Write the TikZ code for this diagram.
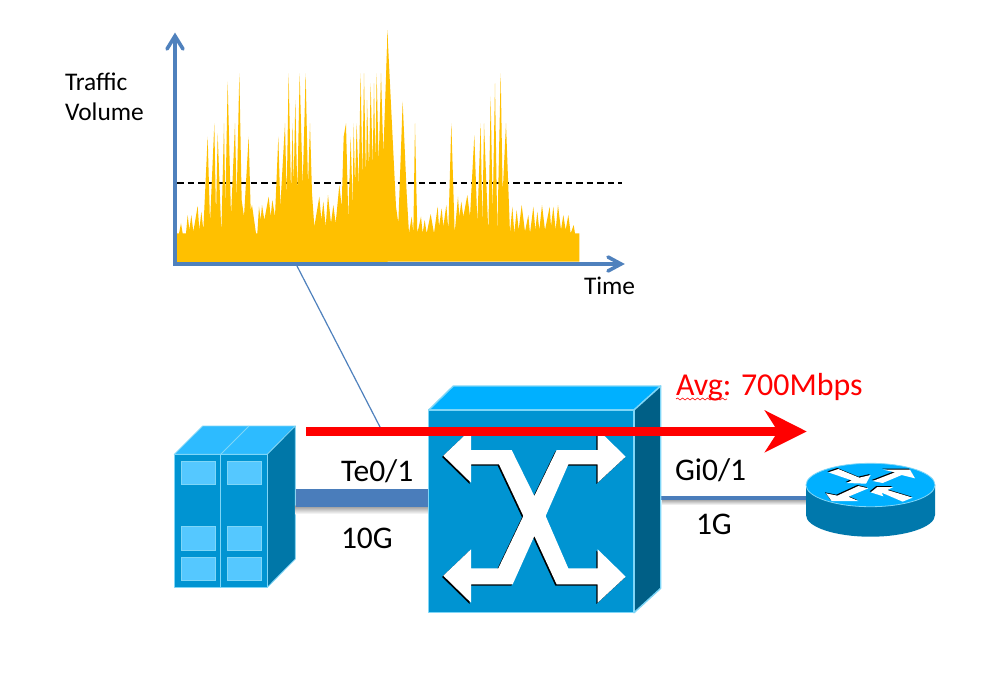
\documentclass[tikz,border=0pt]{standalone}
\usepackage{fontspec}
\setmainfont{Carlito}
\usetikzlibrary{decorations.pathmorphing}
\definecolor{axisblue}{HTML}{4F81BD}
\definecolor{linkblue}{HTML}{4A7DBB}
\definecolor{burst}{HTML}{FFC000}
\definecolor{frontblue}{HTML}{0094D2}
\definecolor{rackTop}{HTML}{2DBBFF}
\definecolor{rackSide}{HTML}{0077A8}
\definecolor{rim}{HTML}{7FD6F7}
\definecolor{pane}{HTML}{55C8FF}
\definecolor{swTop}{HTML}{00B0FF}
\definecolor{swSide}{HTML}{005F86}
\definecolor{rtSide}{HTML}{0078AC}
\tikzset{
  x=1pt,y=-1pt,
  axisline/.style={draw=axisblue,line width=3.6pt},
  axishead/.style={draw=axisblue,line width=3.6pt,line cap=round,line join=miter},
  spikes/.style={fill=burst,draw=none},
  zoomA/.style={shift={(160,20)},x=0.33333pt,y=-0.33333pt},
  zoomB/.style={shift={(380,60)},x=0.33333pt,y=-0.33333pt},
  zoomC/.style={shift={(800,455)},x=0.33333pt,y=-0.33333pt},
  rackface/.style={draw=rim,line width=0.8pt,line join=round},
  windowpane/.style={fill=pane,draw=rim,line width=0.5pt},
  swface/.style={draw=rim,line width=1.4pt,line join=round},
  label/.style={anchor=base west,inner sep=0pt,outer sep=0pt,text=black},
  sizeA/.style={font=\fontsize{25.4}{30}\selectfont},
  sizeB/.style={font=\fontsize{31.5}{38}\selectfont},
}
\begin{document}
\begin{tikzpicture}
\useasboundingbox (0,0) rectangle (999,697);
\fill[white] (0,0) rectangle (999,697);

% Average level, behind the traffic bursts
\coordinate (avgL) at (177,183);
\coordinate (avgR) at (622,183);
\draw[black,line width=1.2pt,dash pattern=on 6.5pt off 4pt] (avgL) -- (avgR);

% Traffic bursts, left part
\begin{scope}[zoomA]
\fill[spikes] (50,727) -- (50,640) -- (57,640) -- (63,610) -- (68,640) -- (78,640) -- (83,585) -- (88,630) -- (94,585) -- (100,635) -- (113,558) -- (118,630) -- (124,575) -- (130,630) -- (143,350) -- (150,610) -- (163,310) -- (168,590) -- (173,340) -- (184,640) -- (192,310) -- (196,560) -- (203,185) -- (213,590) -- (225,310) -- (230,540) -- (238,160) -- (245,540) -- (252,590) -- (266,350) -- (272,570) -- (276,555) -- (288,640) -- (292,640) -- (297,560) -- (302,600) -- (306,555) -- (313,600) -- (326,530) -- (332,590) -- (337,540) -- (345,590) -- (355,350) -- (361,560) -- (375,310) -- (380,530) -- (386,160) -- (393,520) -- (398,310) -- (401,500) -- (406,240) -- (412,520) -- (419,160) -- (428,500) -- (437,160) -- (444,500) -- (450,310) -- (456,520) -- (463,620) -- (478,530) -- (484,600) -- (490,545) -- (497,620) -- (504,525) -- (513,610) -- (520,555) -- (527,610) -- (538,495) -- (545,560) -- (551,350) -- (558,310) -- (565,600) -- (572,350) -- (578,560) -- (581,310) -- (585,500) -- (590,310) -- (596,500) -- (602,160) -- (607,480) -- (612,160) -- (618,480) -- (621,240) -- (627,450) -- (632,190) -- (638,440) -- (642,190) -- (646,430) -- (650,160) -- (656,430) -- (663,160) -- (670,400) -- (683,30) -- (683,727) -- cycle;
\end{scope}
% Traffic bursts, right part
\begin{scope}[zoomB]
\fill[spikes] (10,605) -- (22,-90) -- (48,440) -- (55,490) -- (68,125) -- (80,400) -- (87,520) -- (95,470) -- (100,520) -- (105,190) -- (112,520) -- (123,470) -- (128,520) -- (134,480) -- (140,520) -- (152,462) -- (162,520) -- (173,440) -- (177,500) -- (185,445) -- (190,500) -- (199,435) -- (205,510) -- (214,190) -- (224,520) -- (234,410) -- (238,470) -- (244,425) -- (250,470) -- (262,405) -- (270,470) -- (283,225) -- (292,490) -- (302,190) -- (307,500) -- (312,190) -- (325,520) -- (332,110) -- (338,460) -- (345,70) -- (352,520) -- (362,40) -- (368,400) -- (378,190) -- (390,520) -- (397,440) -- (403,520) -- (410,450) -- (416,510) -- (425,435) -- (435,515) -- (445,465) -- (450,520) -- (460,440) -- (466,510) -- (472,455) -- (478,510) -- (486,435) -- (495,510) -- (509,440) -- (513,500) -- (520,440) -- (527,510) -- (534,435) -- (543,510) -- (550,465) -- (557,510) -- (565,465) -- (572,520) -- (581,495) -- (585,520) -- (598,520) -- (598,605) -- cycle;
\end{scope}

% Chart axes
\coordinate (origin) at (175,264);
\coordinate (ytip) at (175,36);
\coordinate (xtip) at (621,264);
\draw[axisline] (175,265.8) -- (ytip);
\draw[axisline] (origin) -- (xtip);
\draw[axishead] (167,49) -- (ytip) -- (183,49);
\draw[axishead] (608,257) -- (xtip) -- (608,271);

% Leader from the chart to the 10G link
\coordinate (leadA) at (297,266);
\coordinate (leadB) at (380,427);
\draw[axisblue,line width=1.2pt] (leadA) -- (leadB);

% Server stack
\fill[rackTop] (174.3,454.3) -- (202.7,426) -- (295.3,426) -- (267.3,454.3) -- cycle;
\draw[rackface] (174.3,454.3) -- (202.7,426) -- (295.3,426) -- (267.3,454.3) -- cycle;
\draw[rim,line width=0.8pt] (220.7,454.3) -- (249,426);
\fill[rackSide] (267.3,454.3) -- (295.3,426) -- (295.3,559) -- (267.3,587.3) -- cycle;
\draw[rackface] (267.3,454.3) -- (295.3,426) -- (295.3,559) -- (267.3,587.3) -- cycle;
\fill[frontblue] (174.3,454.3) rectangle (267.3,587.3);
\draw[rackface] (174.3,454.3) rectangle (267.3,587.3);
\draw[rim,line width=0.8pt] (220.7,454.3) -- (220.7,587.3);
\foreach \wy in {461,526.3,557}{
  \foreach \wx in {181,227}{
    \path[windowpane] (\wx,\wy) rectangle ++(34,23.6);
  }
}

% 10G link with its soft shadow
\coordinate (srvPort) at (295.5,498);
\coordinate (swPortL) at (428,498);
\shade[top color=black!45,bottom color=white] (295.5,505) rectangle (428,514);
\draw[linkblue,line width=18pt] (srvPort) -- (swPortL);

% 1G link with its soft shadow
\coordinate (swPortR) at (660,498);
\coordinate (rtPort) at (807,498);
\shade[top color=black!40,bottom color=white] (662,499) rectangle (807,505);
\draw[linkblue,line width=4pt] (swPortR) -- (rtPort);

% Switch body
\draw[swface,fill=swTop] (428.7,410) -- (453.3,386) -- (660.7,386) -- (634,410) -- cycle;
\draw[swface,fill=swSide] (634,410) -- (660.7,386) -- (660.7,588.3) -- (634,612.7) -- cycle;
\draw[swface,fill=frontblue] (428.7,410) rectangle (634,612.7);

% Switch crossbar arrows, dark edge first
\begin{scope}[shift={(420,370)},x=0.33333pt,y=-0.33333pt]
\def\crossbar{(70,257) -- (153,178) -- (153,240) -- (275,240) -- (343,378) -- (410,240) -- (533,240) -- (533,178) -- (617,260) -- (533,338) -- (533,283) -- (445,283) -- (377,438) -- (445,595) -- (533,595) -- (533,538) -- (617,620) -- (533,698) -- (533,643) -- (410,643) -- (343,498) -- (278,643) -- (153,643) -- (153,698) -- (70,617) -- (153,538) -- (153,595) -- (235,595) -- (310,438) -- (237,283) -- (153,283) -- (153,338) -- cycle}
\begin{scope}[shift={(-1.3pt,-1.3pt)}]
\fill[black] \crossbar;
\end{scope}
\fill[white] \crossbar;
\end{scope}

% Router
\fill[rtSide] (806,485) -- (806,515) arc[start angle=180,end angle=360,x radius=64.5,y radius=-21.7] -- (935,485) -- cycle;
\fill[swTop,draw=rim,line width=0.8pt] (870.5,485) ellipse[x radius=64.5,y radius=21.7];
\begin{scope}[zoomC]
\foreach \shx/\shy/\shc in {-3/-3/black,0/0/white}{
  \begin{scope}[xshift=\shx*0.33333pt,yshift=-\shy*0.33333pt]
  \fill[\shc] (85,52) -- (115,42) -- (178,68) -- (212,60) -- (198,86) -- (140,84) -- (155,76) -- cycle;
  \fill[\shc] (218,78) -- (248,84) -- (305,60) -- (345,70) -- (330,44) -- (250,44) -- (285,52) -- cycle;
  \fill[\shc] (175,93) -- (205,100) -- (145,125) -- (175,138) -- (95,138) -- (78,115) -- (112,122) -- cycle;
  \fill[\shc] (212,112) -- (232,96) -- (280,96) -- (262,105) -- (338,128) -- (308,140) -- (245,113) -- (250,124) -- cycle;
  \end{scope}
}
\end{scope}

% Average-rate arrow across the switch
\coordinate (flowStart) at (306,431.5);
\coordinate (flowNotch) at (778,431.5);
\draw[red,line width=9.5pt] (flowStart) -- (flowNotch);
\fill[red] (806.7,431.5) -- (764.3,410) -- (778,431.5) -- (764.3,452.7) -- cycle;

% Labels
\node[label,sizeA] (ylabA) at (65,90.7) {Traffic};
\node[label,sizeA] (ylabB) at (65,120) {Volume};
\node[label,sizeA] (xlab) at (584,294) {Time};
\node[label,sizeB] (teLab) at (341,481.7) {Te0/1};
\node[label,sizeB] (tenG) at (341,548) {10G};
\node[label,sizeB] (giLab) at (675,480) {Gi0/1};
\node[label,sizeB] (oneG) at (696,534) {1G};
\node[label,text=red,font=\fontsize{31.9}{38}\selectfont] (avgLab) at (676,395) {Avg: 700Mbps};
\coordinate (wavyL) at (676,399);
\coordinate (wavyR) at (727,399);
\draw[red,line width=0.6pt,decorate,decoration={snake,amplitude=1pt,segment length=5pt}] (wavyL) -- (wavyR);
\end{tikzpicture}
\end{document}
